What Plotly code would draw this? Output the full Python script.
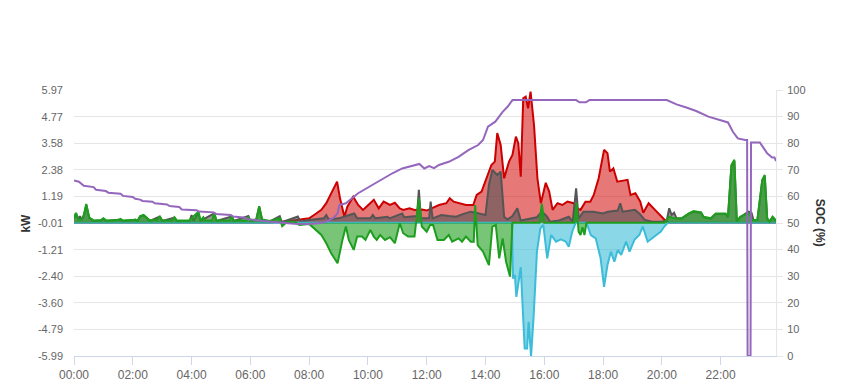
import plotly.graph_objects as go

DAY = "2024-01-01 "

# ---------------- data ----------------
SOC_T = ["00:00","00:10","00:20","00:40","00:45","01:05","01:10","01:35","01:40","02:00","02:05","02:15","02:20","02:40","02:45",
         "03:10","03:15","03:35","03:40","04:10","04:15","04:45","04:50","05:20","05:25","05:50","05:55","06:15","06:40","07:05",
         "07:30","08:00","08:20","08:35","08:50","08:58","09:02","09:15","09:40","10:20","10:50","11:10","11:45","11:55","12:05",
         "12:15","12:25","12:45","13:05","13:25","13:45","13:55","14:05","14:20","14:35","14:45","14:55","17:05","17:12","17:25",
         "17:32","20:10","20:30","20:50","21:10","21:35","21:55","22:15","22:25","22:35","22:50","22:54","22:55","23:01","23:02",
         "23:20","23:35","23:45","23:50","23:53"]
SOC_V = [66, 65.5, 64, 63.5, 62.5, 62, 61.4, 61, 60.2, 59.8, 59.1, 58.8, 58.3, 58, 57.4,
         57, 56.4, 56, 55.1, 54.8, 54.3, 54, 53.4, 53, 52.4, 52, 51.4, 51.1, 50.6, 50.1,
         49.7, 49.6, 49.9, 50.5, 52, 53.6, 56.8, 57.4, 61.2, 65.5, 68.7, 70.5, 72.2, 70.5, 71.4,
         70.6, 71.8, 73, 74.9, 77.4, 79.3, 81.2, 86.2, 88.1, 91.8, 93.7, 96.2, 96.2, 95.4, 95.4,
         96.2, 96.2, 94.6, 93.4, 92.1, 90, 89, 87.8, 84.3, 81.8, 81.2, 81.2, 0, 0, 80.3,
         80.3, 76.2, 74.6, 74.6, 73.3]

PV_T = ["00:00","06:40","07:20","07:40","08:00","08:10","08:25","08:35","08:57","09:03","09:12","09:18","09:30","09:40","09:50",
        "09:57","10:12","10:22","10:32","10:45","10:55","11:05","11:12","11:25","11:35","11:50","12:00","12:10","12:25","12:40",
        "12:47","12:55","13:05","13:20","13:35","13:42","13:52","14:02","14:12","14:19","14:24","14:31","14:38","14:48","14:55",
        "15:02","15:07","15:12","15:17","15:22","15:27","15:32","15:39","15:46","15:53","16:03","16:10","16:17","16:27","16:37",
        "16:47","17:00","17:07","17:14","17:24","17:34","17:41","17:51","18:02","18:09","18:14","18:21","18:29","18:50","18:56",
        "19:06","19:16","19:22","19:33","19:46","20:06","20:14","23:53"]
PV_KW = [0, 0, 0.08, 0.13, 0.2, 0.35, 0.58, 0.88, 1.85, 1.1, 0.27, 0.72, 1.17, 0.8, 0.58,
         0.72, 1.03, 0.65, 0.95, 0.8, 0.9, 0.65, 0.58, 0.65, 0.58, 0.6, 0.55, 0.65, 0.8, 0.88,
         1.1, 0.95, 0.88, 0.8, 0.8, 1.25, 1.4, 2.0, 2.6, 2.75, 4.03, 3.5, 2.0, 2.75, 3.05,
         3.87, 3.58, 2.07, 5.6, 5.67, 5.15, 5.9, 4.4, 2.0, 0.88, 1.8, 1.4, 0.58, 0.88, 0.8,
         0.95, 0.88, 0.65, 0.58, 0.95, 0.95, 1.25, 2.0, 3.28, 3.13, 2.3, 2.45, 1.85, 1.93, 1.25,
         1.33, 0.95, 0.45, 0.88, 0.58, 0.13, 0, 0]

LOAD_T = ["00:00","00:04","00:09","00:12","00:16","00:20","00:25","00:31","00:40","00:55","01:00","01:06","01:35","01:40","02:05",
          "02:10","02:15","02:22","02:28","02:35","02:55","03:00","03:25","03:30","03:56","04:00","04:04","04:14","04:18","04:46",
          "04:51","05:22","05:26","05:56","06:00","06:12","06:18","06:24","06:40","07:00","07:04","07:37","07:42","08:00","08:30",
          "08:35","08:40","09:00","09:32","09:38","10:05","10:10","10:15","10:40","10:44","11:10","11:14","11:40","11:44","11:48",
          "12:05","12:08","12:12","12:30","12:45","13:00","13:15","13:30","13:40","14:00","14:07","14:14","14:24","14:31","14:38",
          "14:45","14:55","15:05","15:12","15:25","15:35","15:45","15:55","16:05","16:12","16:30","16:50","16:58","17:05","17:10",
          "17:20","17:40","18:00","18:10","18:30","18:35","18:40","19:05","19:15","19:25","19:40","20:00","20:10","20:15","20:20",
          "20:25","20:30","20:40","20:55","21:05","21:20","21:25","21:40","21:50","22:10","22:15","22:22","22:28","22:33","22:40",
          "22:50","22:57","23:03","23:07","23:15","23:25","23:30","23:35","23:40","23:46","23:53"]
LOAD_KW = [0.18, 0.42, 0.13, 0.3, 0.13, 0.3, 0.8, 0.22, 0.08, 0.1, 0.18, 0.08, 0.15, 0.08, 0.13,
           0.08, 0.28, 0.33, 0.23, 0.08, 0.28, 0.08, 0.23, 0.08, 0.08, 0.35, 0.08, 0.45, 0.08, 0.42,
           0.08, 0.28, 0.08, 0.3, 0.08, 0.13, 0.72, 0.13, 0.06, 0.3, 0.03, 0.28, 0.05, 0.12, 0.2,
           0.35, 0.15, 0.2, 0.42, 0.2, 0.2, 0.35, 0.2, 0.27, 0.2, 0.42, 0.25, 0.3, 1.48, 0.2,
           0.2, 0.95, 0.2, 0.35, 0.3, 0.27, 0.4, 0.5, 0.45, 0.35, 1.7, 2.38, 2.15, 2.3, 0.27,
           0.15, 0.3, 0.65, 0.1, 0.15, 0.2, 0.25, 0.5, 0.3, 0.05, 0.1, 0.27, 0.05, 1.55, 0.2,
           0.5, 0.5, 0.42, 0.5, 0.55, 0.88, 0.5, 0.58, 0.4, 0.13, 0.05, 0.05, 0.1, 0.65, 0.35,
           0.45, 0.2, 0.18, 0.4, 0.5, 0.45, 0.25, 0.18, 0.4, 0.4, 0.25, 2.55, 2.78, 0.05, 0.25,
           0.4, 0.5, 0.45, 0.12, 0.12, 1.9, 2.1, 0.18, 0.05, 0.25, 0.08]

GRID_T = ["00:00","00:04","00:09","00:15","00:20","00:25","00:31","00:40","00:55","01:00","01:06","01:30","01:35","01:40","02:00",
          "02:05","02:10","02:15","02:22","02:28","02:35","02:45","02:50","02:55","03:00","03:20","03:25","03:30","03:55","04:14",
          "04:18","04:24","04:28","04:42","04:46","04:51","05:18","05:22","05:26","05:52","05:56","06:00","06:12","06:18","06:24",
          "06:40","07:00","07:05","07:15","07:30","07:40","08:00","08:10","08:25","08:35","08:45","08:58","09:03","09:08","09:15",
          "09:21","09:31","09:38","09:48","09:55","10:05","10:12","10:18","10:25","10:35","10:45","10:55","11:05","11:12","11:22",
          "11:35","11:44","11:50","12:00","12:07","12:13","12:22","12:35","12:45","12:52","13:05","13:12","13:20","13:30","13:36",
          "13:39","13:44","13:55","14:07","14:14","14:21","14:28","14:35","14:42","14:50","14:55","15:50","15:55","16:00","17:01",
          "17:06","17:10","17:14","17:18","17:22","17:26","20:05","20:15","20:25","20:40","20:55","21:05","21:20","21:25","21:40",
          "21:50","22:10","22:15","22:22","22:28","22:33","22:40","22:48","22:58","23:05","23:15","23:25","23:30","23:35","23:40",
          "23:46","23:53"]
GRID_KW = [0.2, 0.45, 0.15, 0.15, 0.35, 0.85, 0.25, 0.1, 0.12, 0.2, 0.1, 0.12, 0.17, 0.1, 0.12,
           0.15, 0.1, 0.3, 0.35, 0.25, 0.1, 0.15, 0.1, 0.3, 0.1, 0.1, 0.25, 0.1, 0.1, 0.5,
           0.1, 0.25, 0.1, 0.1, 0.45, 0.1, 0.1, 0.3, 0.1, 0.1, 0.25, 0.1, 0.15, 0.75, 0.15,
           0.08, 0.2, -0.15, 0.05, 0.05, -0.1, -0.05, -0.25, -0.55, -0.92, -1.37, -1.82, -1.22, -0.77, -0.17,
           -0.77, -1.22, -0.62, -0.62, -0.77, -0.32, -0.62, -0.77, -0.55, -0.77, -0.65, -0.92, -0.02, -0.47, -0.62,
           -0.62, 1.1, -0.17, -0.4, -0.1, -0.1, -0.77, -0.77, -0.55, -0.85, -0.7, -0.85, -0.62, -0.85, -0.85,
           0.8, -1.0, -1.3, -1.9, -0.17, -0.1, -1.6, -0.7, -1.75, -2.42, 0, 0, 0.85, 0, 0,
           0.88, -0.4, -0.55, -0.2, -0.55, 0, 0, 0.27, 0.2, 0.2, 0.42, 0.53, 0.47, 0.27, 0.2,
           0.42, 0.42, 0.27, 2.6, 2.83, 0.05, 0.27, 0.35, 0.42, 0.13, 0.13, 1.93, 2.15, 0.2, 0.05,
           0.27, 0.1]

BAT_T = ["00:00","14:54","14:56","15:00","15:03","15:08","15:12","15:15","15:20","15:25","15:28","15:33","15:38","15:45","15:52",
         "15:58","16:06","16:14","16:24","16:34","16:44","16:50","16:57","17:04","17:26","17:35","17:45","17:55","18:02","18:09",
         "18:16","18:23","18:30","18:37","18:47","18:54","19:04","19:14","19:21","19:31","19:45","19:58","20:05","20:12","23:53"]
BAT_KW = [0, 0, -2.5, -2.35, -3.33, -2.65, -2.0, -3.4, -5.65, -5.65, -4.45, -6.0, -4.3, -1.3, -0.25,
          -0.1, -1.6, -0.55, -0.85, -0.75, -0.85, -1.08, -0.4, 0, 0, -0.55, -0.7, -1.6, -2.88, -1.9,
          -1.3, -1.75, -1.22, -1.45, -0.85, -1.3, -0.77, -0.55, -0.17, -0.85, -0.62, -0.4, -0.17, 0, 0]

KW_TICKS = [5.97, 4.77, 3.58, 2.38, 1.19, -0.01, -1.21, -2.40, -3.60, -4.79, -5.99]
KW_LABELS = ["5.97", "4.77", "3.58", "2.38", "1.19", "-0.01", "-1.21", "-2.40", "-3.60", "-4.79", "-5.99"]
SOC_TICKS = [0, 10, 20, 30, 40, 50, 60, 70, 80, 90, 100]


def ts(lst):
    return [DAY + t for t in lst]


fig = go.Figure()

def area(t, v, line, fill):
    fig.add_trace(go.Scatter(x=ts(t), y=v, mode="lines", fill="tozeroy",
                             line=dict(color=line, width=2), fillcolor=fill,
                             hoverinfo="skip", showlegend=False, yaxis="y"))

area(PV_T, PV_KW, "#cc0000", "rgba(214,30,30,0.6)")
area(LOAD_T, LOAD_KW, "#555555", "rgba(85,85,85,0.6)")
area(BAT_T, BAT_KW, "#3cbcd8", "rgba(60,188,216,0.6)")
area(GRID_T, GRID_KW, "#1e9e1e", "rgba(30,158,30,0.6)")

fig.add_trace(go.Scatter(x=ts(SOC_T), y=SOC_V, mode="lines",
                         line=dict(color="#9467bd", width=2),
                         hoverinfo="skip", showlegend=False, yaxis="y2"))

font_family = "Liberation Sans, Arial, sans-serif"

# page body has an 8px margin: the figure is sized/offset to compensate
fig.update_layout(
    width=841, height=382,
    margin=dict(l=66, r=73, t=82, b=34, autoexpand=False),
    paper_bgcolor="white", plot_bgcolor="white",
    font=dict(family=font_family, size=11, color="#666666"),
    xaxis=dict(type="date", range=[DAY + "00:00", DAY + "23:53"],
               tickformat="%H:%M", dtick=7200000, tick0=DAY + "00:00",
               showgrid=False, zeroline=False,
               showline=True, linecolor="#ccd6eb", linewidth=1,
               ticks="outside", ticklen=8, tickcolor="#ccd6eb",
               tickfont=dict(size=12, color="#666666")),
    yaxis=dict(range=[-5.99, 5.97], tickvals=KW_TICKS, ticktext=KW_LABELS,
               showgrid=True, gridcolor="#e6e6e6", gridwidth=1,
               zeroline=False, showline=False, ticks="",
               ticklabelstandoff=10, automargin=False,
               tickfont=dict(size=11, color="#666666")),
    yaxis2=dict(range=[0, 100], tickvals=SOC_TICKS, overlaying="y", side="right",
                anchor="x", showgrid=False, zeroline=False,
                showline=True, linecolor="#e6e6e6", linewidth=1,
                ticks="outside", ticklen=6, tickcolor="#e6e6e6",
                ticklabelstandoff=2, automargin=False,
                tickfont=dict(size=11, color="#666666")),
    annotations=[
        dict(text="<b>kW</b>", xref="paper", yref="paper", x=-0.069, y=0.5,
             xanchor="center", yanchor="middle",
             textangle=-90, showarrow=False, font=dict(size=12, color="#333333", family=font_family)),
        dict(text="<b>SOC (%)</b>", xref="paper", yref="paper", x=1.063, y=0.5,
             xanchor="center", yanchor="middle",
             textangle=90, showarrow=False, font=dict(size=12, color="#333333", family=font_family)),
    ],
)

fig.write_html("out.html")
